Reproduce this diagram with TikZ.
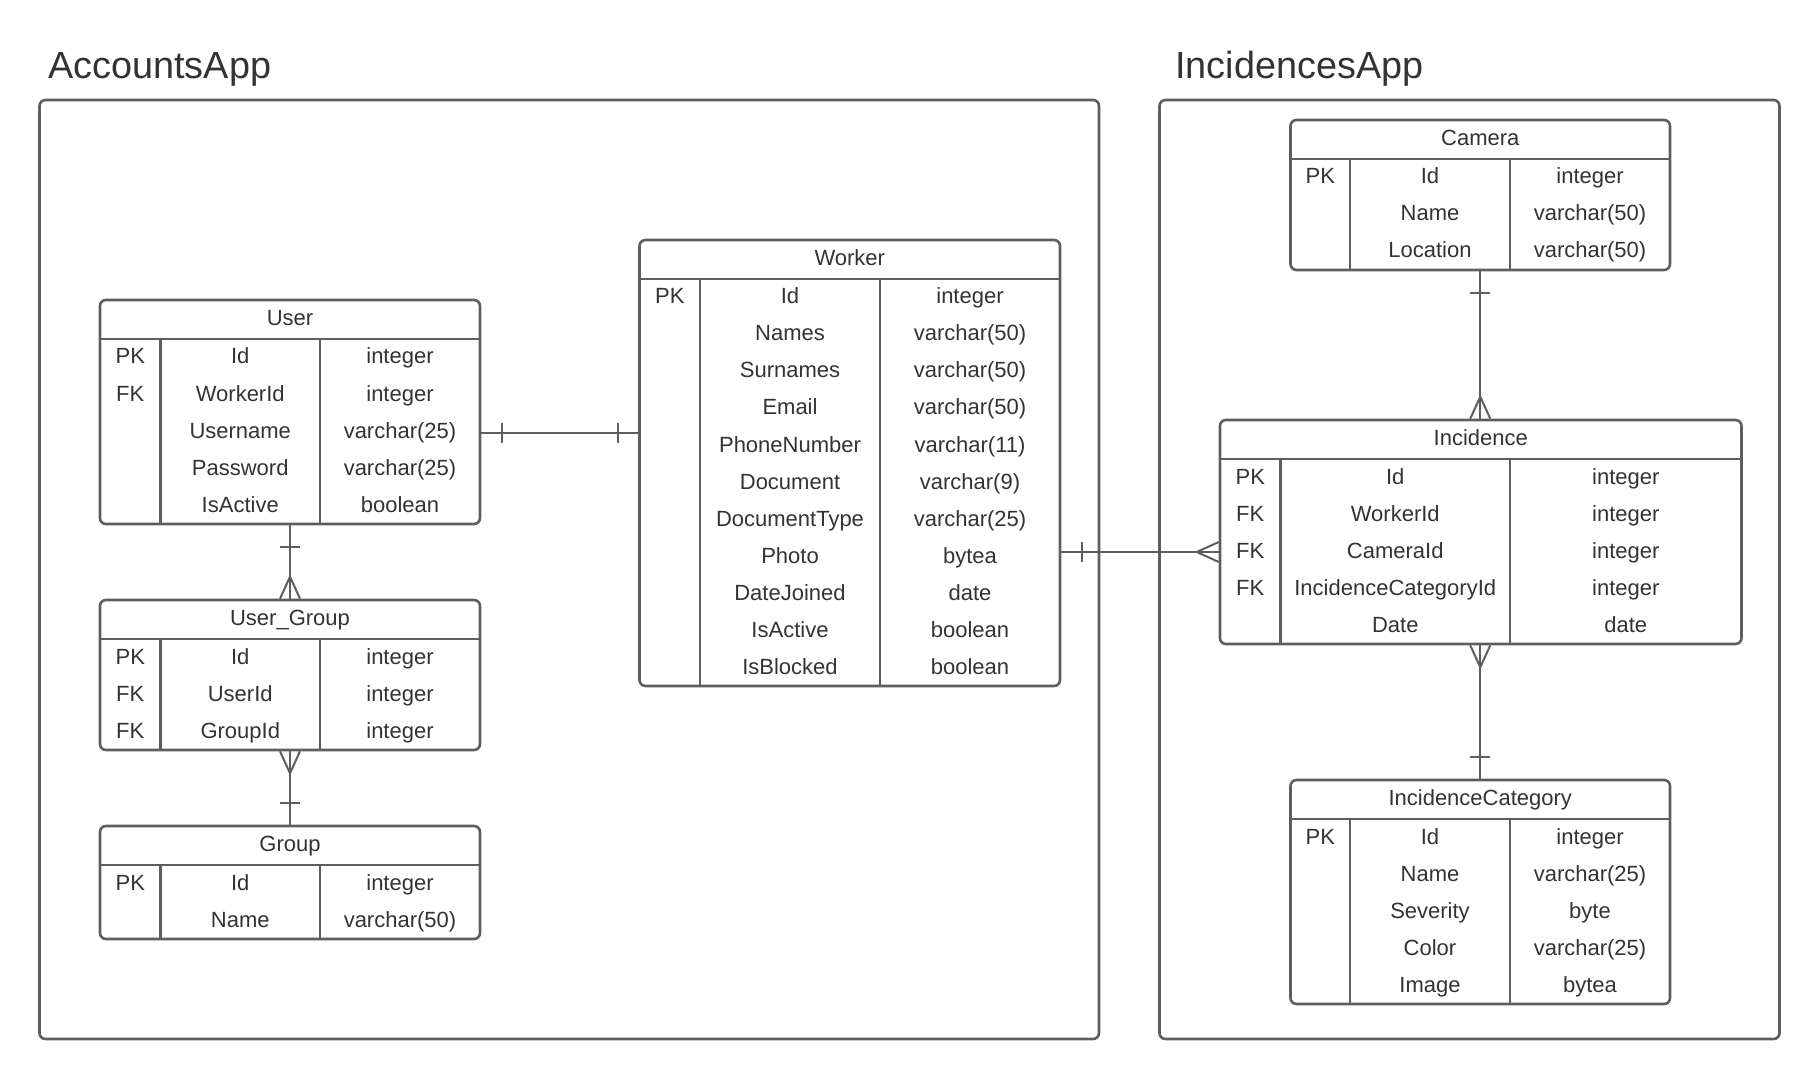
\documentclass[tikz,border=0pt]{standalone}
\usepackage{fontspec}
\setmainfont{Liberation Sans}
\usetikzlibrary{fit}
\definecolor{ln}{HTML}{5E5E5E}
\definecolor{tx}{HTML}{333333}
\tikzset{
  tbl/.style={draw=ln, line width=1.3pt, rounded corners=3pt, inner sep=0pt},
  tline/.style={draw=ln, line width=1.3pt},
  frame/.style={draw=ln, line width=1.3pt, rounded corners=3pt, inner sep=0pt},
  rel/.style={draw=ln, line width=1pt},
  txt/.style={anchor=base, inner sep=0pt, text=tx, font=\fontsize{11}{13}\selectfont},
  ttl/.style={anchor=base west, inner sep=0pt, text=tx, font=\fontsize{18.9}{22}\selectfont}
}
\newcommand{\ertable}[9]{%
  \pgfmathsetmacro\erYh{#3+39}%
  \pgfmathsetmacro\erYb{#3+39+37*#7}%
  \draw[tline] (#2,\erYh) -- (#6,\erYh);
  \draw[tline] (#4,\erYh) -- (#4,\erYb);
  \draw[tline] (#5,\erYh) -- (#5,\erYb);
  \node[tbl, fit={(#2,#3) (#6,\erYb)}] (#1) {};
  \node[txt] (#1-title) at ({(#2+#6)/2},{#3+19.5+6}) {#8};
  \foreach \k/\n/\t [count=\i from 0] in {#9} {
    \pgfmathsetmacro\erYr{\erYh+18.5+37*\i+6.5}
    \node[txt] (#1-k\i) at ({(#2+#4)/2},\erYr) {\k};
    \node[txt] (#1-n\i) at ({(#4+#5)/2},\erYr) {\n};
    \node[txt] (#1-t\i) at ({(#5+#6)/2},\erYr) {\t};
  }%
}
\begin{document}
\begin{tikzpicture}[x=0.5pt,y=-0.5pt]
\useasboundingbox (0,0) rectangle (1820,1080);
\fill[white] (0,0) rectangle (1820,1080);

% frames and titles
\node[frame, fit={(39.5,100) (1099,1039)}] (accframe) {};
\node[frame, fit={(1159.5,100) (1779.5,1039)}] (incframe) {};
\node[ttl] (acctitle) at (48,78.5) {AccountsApp};
\node[ttl] (inctitle) at (1175,78.5) {IncidencesApp};

% tables
\ertable{user}{100}{300}{160.5}{320}{480}{5}{User}{PK/Id/integer, FK/WorkerId/integer, /Username/varchar(25), /Password/varchar(25), /IsActive/boolean}
\ertable{ug}{100}{600}{160.5}{320}{480}{3}{User\_Group}{PK/Id/integer, FK/UserId/integer, FK/GroupId/integer}
\ertable{group}{100}{826}{160.5}{320}{480}{2}{Group}{PK/Id/integer, /Name/varchar(50)}
\ertable{worker}{639.5}{240}{700}{880}{1060}{11}{Worker}{PK/Id/integer, /Names/varchar(50), /Surnames/varchar(50), /Email/varchar(50), /PhoneNumber/varchar(11), /Document/varchar(9), /DocumentType/varchar(25), /Photo/bytea, /DateJoined/date, /IsActive/boolean, /IsBlocked/boolean}
\ertable{camera}{1290.5}{120}{1350}{1510}{1670}{3}{Camera}{PK/Id/integer, /Name/varchar(50), /Location/varchar(50)}
\ertable{incidence}{1220}{420}{1280.5}{1510}{1741.5}{5}{Incidence}{PK/Id/integer, FK/WorkerId/integer, FK/CameraId/integer, FK/IncidenceCategoryId/integer, /Date/date}
\ertable{category}{1290.5}{780}{1350}{1510}{1670}{5}{IncidenceCategory}{PK/Id/integer, /Name/varchar(25), /Severity/byte, /Color/varchar(25), /Image/bytea}

% User -- Worker (one to one)
\coordinate (uw) at (0,433);
\draw[rel] (user.east |- uw) -- (worker.west |- uw);
\draw[rel] (user.east |- uw) ++(21,-10) -- ++(0,20);
\draw[rel] (worker.west |- uw) ++(-20,-10) -- ++(0,20);

% Worker -- Incidence (one to many)
\coordinate (wi) at (0,552);
\draw[rel] (worker.east |- wi) -- (incidence.west |- wi);
\draw[rel] (worker.east |- wi) ++(21,-10) -- ++(0,20);
\draw[rel] (incidence.west |- wi) ++(0,-10) -- ++(-22,10) -- ++(22,10);

% User -- User_Group
\draw[rel] (user.south) -- (ug.north);
\draw[rel] (user.south) ++(-10,21.5) -- ++(20,0);
\draw[rel] (ug.north) ++(-10,0) -- ++(10,-22) -- ++(10,22);

% User_Group -- Group
\draw[rel] (ug.south) -- (group.north);
\draw[rel] (ug.south) ++(-10,0) -- ++(10,22) -- ++(10,-22);
\draw[rel] (group.north) ++(-10,-22) -- ++(20,0);

% Camera -- Incidence
\draw[rel] (camera.south) -- (camera.south |- incidence.north);
\draw[rel] (camera.south) ++(-10,21.5) -- ++(20,0);
\draw[rel] (camera.south |- incidence.north) ++(-10,0) -- ++(10,-22) -- ++(10,22);

% Incidence -- IncidenceCategory
\draw[rel] (category.north |- incidence.south) -- (category.north);
\draw[rel] (category.north |- incidence.south) ++(-10,0) -- ++(10,22) -- ++(10,-22);
\draw[rel] (category.north) ++(-10,-22) -- ++(20,0);
\end{tikzpicture}
\end{document}
